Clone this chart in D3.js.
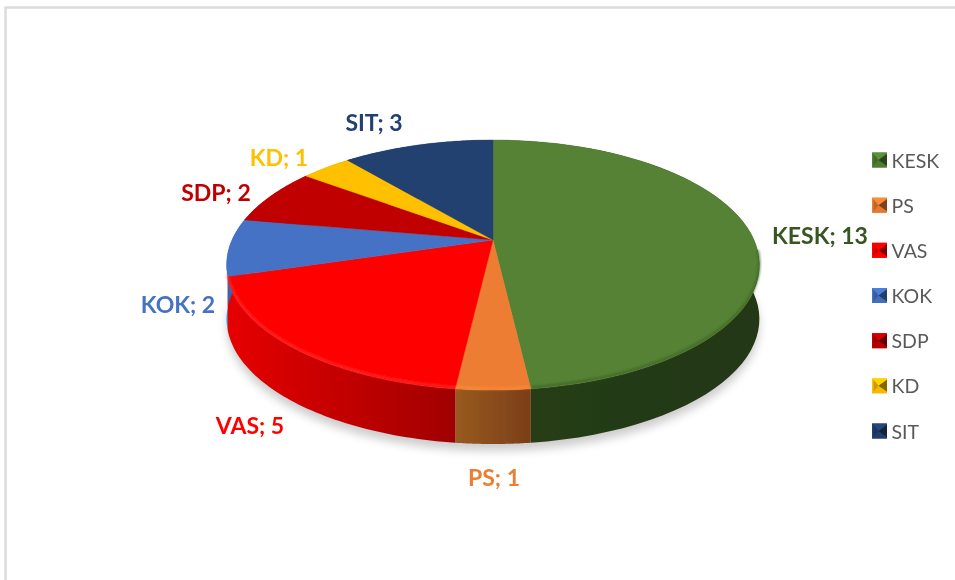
<!DOCTYPE html>
<html><head><meta charset="utf-8">
<script src="https://cdnjs.cloudflare.com/ajax/libs/d3/7.9.0/d3.min.js"></script>
<style>html,body{margin:0;padding:0;background:#fff;overflow:hidden}svg{display:block}text{font-family:Lato,"Open Sans",sans-serif}</style>
</head><body><svg id="c" width="955" height="580"></svg>
<script>
const categories=["KESK","PS","VAS","KOK","SDP","KD","SIT"];
const seats=[13,1,5,2,2,1,3];
const topColors=["#548235","#ed7d31","#ff0000","#4472c4","#c00000","#ffc000","#224070"];
const labelColors=["#375623","#ed7d31","#ff0000","#4472c4","#c00000","#ffc000","#224070"];
const sideLeft=["#263f14","#995a20","#e60000","#3a64ad","#a00000","#cc9900","#1a2e52"];
const sideRight=["#213712","#7a3f18","#a00000","#3a64ad","#a00000","#cc9900","#1a2e52"];
const bevelColors=["#3a5c22","#ff9040","#ff3838",null,null,null,null];
const labelCentres=[[820,235],[494,477],[250,425],[178,304],[216,192],[279,157],[374,122]];

const W=955,H=580,cx=493,cy=240,R=261,A=120,persp=-0.2,depth=54;
const svg=d3.select("#c");
const defs=svg.append("defs");
const addBlur=(id,sd)=>defs.append("filter").attr("id",id).attr("filterUnits","userSpaceOnUse").attr("x",0).attr("y",0).attr("width",W).attr("height",H)
  .append("feGaussianBlur").attr("stdDeviation",sd);
addBlur("blurS",5);addBlur("blurH",1.3);addBlur("soft",.45);

svg.append("rect").attr("width",W).attr("height",H).attr("fill","#fff");
const root=svg.append("g").attr("filter","url(#soft)");
root.append("path").attr("d",`M5.5 ${H+5}V7.5H${W+5}`).attr("fill","none").attr("stroke","#dcdcdc").attr("stroke-width",2.5);

const pie=d3.pie().sort(null).value(d=>d);
const arcs=pie(seats);
function proj(t,r=1,dy=0){
  const x=r*Math.sin(t),y=-r*Math.cos(t),w=1+persp*y;
  return [cx+R*x/w,cy+A*y/w+dy];
}
function arcPts(a0,a1,dy=0){
  return d3.range(0,61).map(i=>proj(a0+(a1-a0)*i/60,1,dy));
}
const line=d3.line();

root.append("path").attr("d",line(arcPts(0,2*Math.PI,depth+7))+"Z").attr("fill","#000").attr("opacity",.2).attr("filter","url(#blurS)");

arcs.forEach((a,i)=>{
  const top=arcPts(a.startAngle,a.endAngle),bot=arcPts(a.endAngle,a.startAngle,depth);
  const xs=top.map(p=>p[0]);
  const id="side"+i;
  const g=defs.append("linearGradient").attr("id",id).attr("gradientUnits","userSpaceOnUse")
    .attr("x1",d3.min(xs)).attr("x2",d3.max(xs)).attr("y1",0).attr("y2",0);
  g.append("stop").attr("offset",0).attr("stop-color",sideLeft[i]);
  g.append("stop").attr("offset",1).attr("stop-color",sideRight[i]);
  root.append("path").attr("d",line(top.concat(bot))+"Z").attr("fill",`url(#${id})`);
});

arcs.forEach((a,i)=>{
  const pts=[[cx,cy]].concat(arcPts(a.startAngle,a.endAngle));
  root.append("path").attr("d",line(pts)+"Z").attr("fill",topColors[i]).attr("stroke",topColors[i]).attr("stroke-width",.4);
});
// bevel only along the visible front rim
const frontStart=Math.PI*0.53,frontEnd=Math.PI*1.42;
arcs.forEach((a,i)=>{
  if(!bevelColors[i])return;
  const a0=Math.max(a.startAngle,frontStart),a1=Math.min(a.endAngle,frontEnd);
  root.append("path").attr("d",line(arcPts(a0,a1,-1.5))).attr("fill","none")
    .attr("stroke",bevelColors[i]).attr("stroke-width",2.2).attr("filter","url(#blurH)").attr("opacity",.7);
});

arcs.forEach((a,i)=>{
  root.append("text").attr("x",labelCentres[i][0]).attr("y",labelCentres[i][1]).attr("text-anchor","middle")
    .attr("dominant-baseline","central").attr("font-size",23).attr("font-weight",700).attr("fill",labelColors[i])
    .text(`${categories[i]}; ${seats[i]}`);
});

const ly=d3.scalePoint().domain(categories).range([160,431]);
const s=15,lx=872;
categories.forEach((c,i)=>{
  const y=ly(c)-s/2,col=d3.color(topColors[i]);
  const x0=lx,x1=lx+s,y0=y,y1=y+s,mx=lx+s/2-1,my=ly(c),inner=1.5;
  const tri=(pts,f)=>root.append("path").attr("d",line(pts)+"Z").attr("fill",f);
  tri([[x0,y0],[x1,y0],[x1,y1],[x0,y1]],col);
  tri([[x0,y0],[x1,y0],[mx,my]],col.brighter(.3));
  tri([[x0,y1],[x1,y1],[mx,my]],col.darker(.1));
  tri([[x0+inner,y0+inner],[mx,my],[x0+inner,y1-inner]],col.darker(.6));
  tri([[x1,y0+inner],[mx,my],[x1,y1-inner]],col.darker(1.8));
  root.append("text").attr("x",891.5).attr("y",ly(c)).attr("dominant-baseline","central")
    .attr("font-size",19.5).attr("fill","#595959").text(c);
});
</script></body></html>
